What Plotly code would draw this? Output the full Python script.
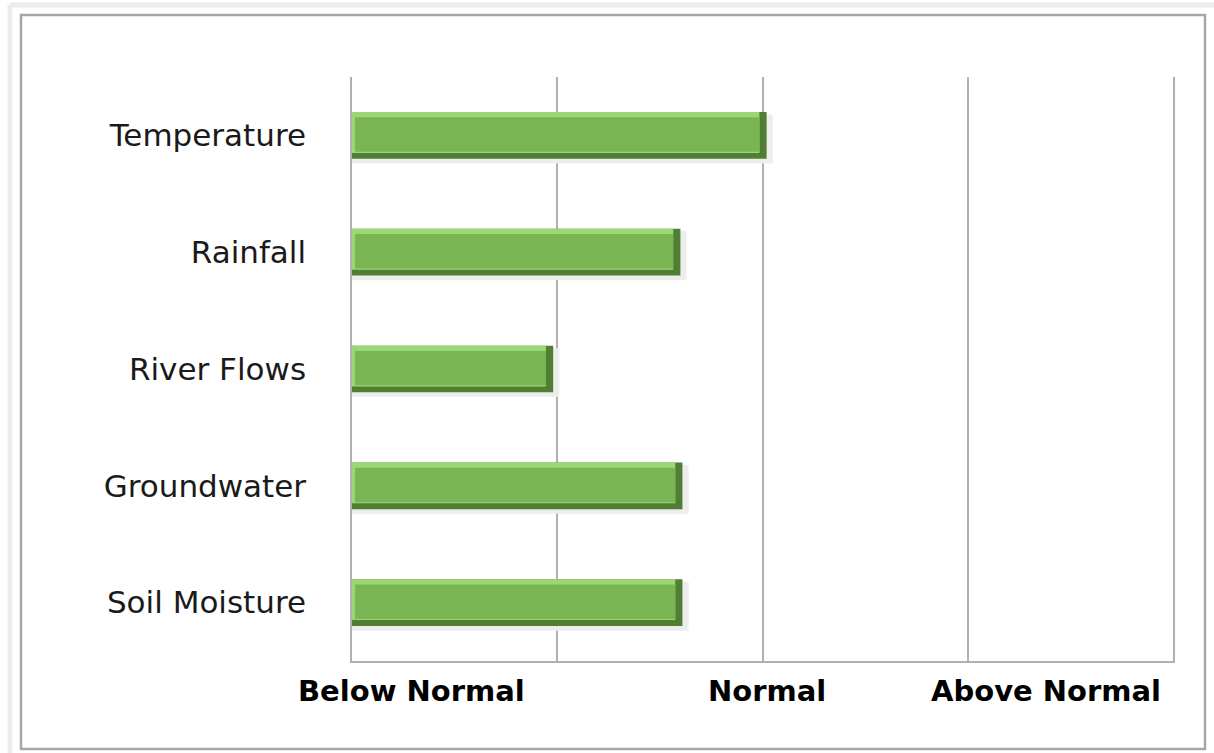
import plotly.graph_objects as go

categories = ["Temperature", "Rainfall", "River Flows", "Groundwater", "Soil Moisture"]
values = [2.02, 1.60, 0.98, 1.61, 1.61]
scale_labels = ["Below Normal", "Normal", "Above Normal"]
scale_label_pos = [0.29, 2.02, 3.38]

W, H = 1214, 753
ML, MR, MT, MB = 352, 41, 77, 92

fig = go.Figure()
# soft shadow
fig.add_trace(go.Bar(y=categories, x=[v + 0.03 for v in values], orientation="h",
                     offset=-0.18, width=0.42, marker=dict(color="#ededed", line=dict(width=0)),
                     hoverinfo="skip"))
# dark bevel (bottom/right)
fig.add_trace(go.Bar(y=categories, x=values, orientation="h",
                     offset=-0.2, width=0.4, marker=dict(color="#507f34", line=dict(width=0)),
                     hoverinfo="x+y"))
# light bevel (top/left)
fig.add_trace(go.Bar(y=categories, x=[v - 0.035 for v in values], orientation="h",
                     offset=-0.2, width=0.35, marker=dict(color="#9cd677", line=dict(width=0)),
                     hoverinfo="skip"))
# main face
fig.add_trace(go.Bar(y=categories, x=[v - 0.05 for v in values], base=0.015, orientation="h",
                     offset=-0.155, width=0.295, marker=dict(color="#79b553", line=dict(width=0)),
                     hoverinfo="skip"))

for lab, pos in zip(scale_labels, scale_label_pos):
    fig.add_annotation(x=pos, y=0, xref="x", yref="paper", text=lab, showarrow=False,
                       yanchor="middle", yshift=-30,
                       font=dict(family="DejaVu Sans", size=29, color="#000000", weight="bold"))

fig.update_layout(
    width=W, height=H,
    margin=dict(l=ML, r=MR, t=MT, b=MB),
    paper_bgcolor="white", plot_bgcolor="white",
    showlegend=False, barmode="overlay",
    xaxis=dict(range=[0, 4], dtick=1, tick0=0, showgrid=True, gridcolor="#b0b0b0", gridwidth=1.5,
               showticklabels=False, zeroline=False, showline=True, linecolor="#b0b0b0", linewidth=1.5),
    yaxis=dict(autorange="reversed", showline=True, linecolor="#b0b0b0", linewidth=1.5, mirror=True,
               ticks="", ticklabelstandoff=38,
               tickfont=dict(family="DejaVu Sans", size=31, color="#1a1a1a")),
)

pw, ph = W - ML - MR, H - MT - MB
def px(x):
    return (x - ML) / pw
def py(y):
    return (H - MB - y) / ph

fig.add_shape(type="line", xref="paper", yref="paper",
              x0=px(10), x1=px(10), y0=py(753), y1=py(5),
              line=dict(color="#ececec", width=5), layer="below")
fig.add_shape(type="line", xref="paper", yref="paper",
              x0=px(10), x1=px(1214), y0=py(5), y1=py(5),
              line=dict(color="#ececec", width=5), layer="below")
fig.add_shape(type="rect", xref="paper", yref="paper",
              x0=px(21), x1=px(1205), y0=py(749), y1=py(15),
              line=dict(color="#a6a6a6", width=2.5), layer="below")

fig.write_html("out.html", config={"displayModeBar": False},
               post_script="document.body.style.margin='0';")
